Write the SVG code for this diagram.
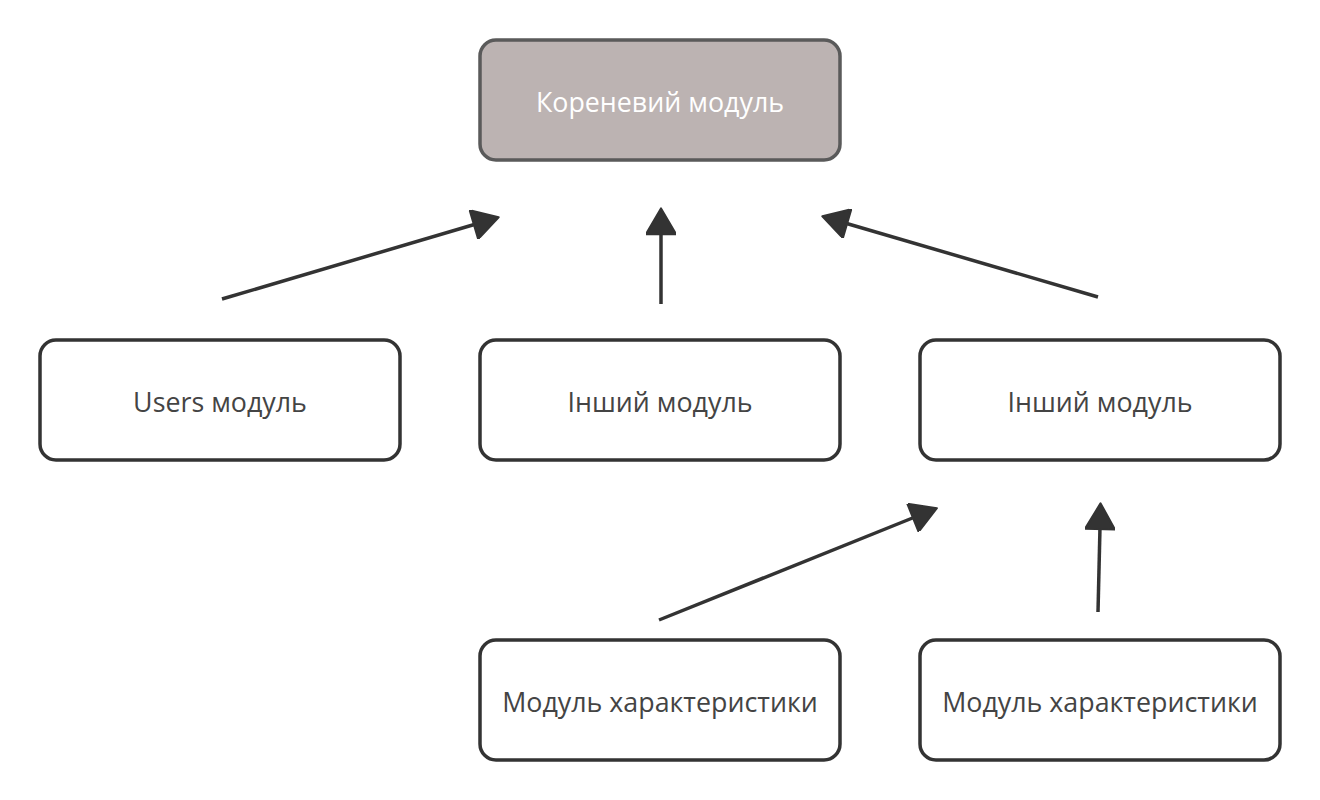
<svg xmlns="http://www.w3.org/2000/svg" width="1320" height="800" viewBox="0 0 1320 800">
<style>
.n{fill:#fff;stroke:#333;stroke-width:3.5}
.root{fill:#bcb3b2;stroke:#5a5a5a;stroke-width:3.5}
.t{font-family:"Open Sans",sans-serif;font-size:26.8px;fill:#444;text-anchor:middle;dominant-baseline:central}
.tr{fill:#fff}
.c{stroke:#333;stroke-width:3.5;fill:none;marker-end:url(#ah)}
</style>
<defs>
<marker id="ah" markerUnits="userSpaceOnUse" markerWidth="30" markerHeight="30" viewBox="0 0 24 28" refX="2" refY="14" orient="auto">
<path d="M0,0 L24,14 L0,28 Z" fill="#333" stroke="#333" stroke-width="2" stroke-linejoin="round"/>
</marker>
</defs>
<rect width="1320" height="800" fill="#fff"/>
<g id="connectors">
<line class="c" x1="222" y1="299" x2="476" y2="224"/>
<line class="c" x1="661" y1="304" x2="661" y2="232"/>
<line class="c" x1="1098" y1="297" x2="845" y2="223"/>
<line class="c" x1="659" y1="620" x2="915" y2="517"/>
<line class="c" x1="1098" y1="612" x2="1100" y2="527"/>
</g>
<g id="root"><rect class="root" x="480" y="40" width="360" height="120" rx="16"/><text class="t tr" x="660" y="101">Кореневий модуль</text></g>
<g id="users"><rect class="n" x="40" y="340" width="360" height="120" rx="16"/><text class="t" x="220" y="401">Users модуль</text></g>
<g id="other1"><rect class="n" x="480" y="340" width="360" height="120" rx="16"/><text class="t" x="660" y="401">Інший модуль</text></g>
<g id="other2"><rect class="n" x="920" y="340" width="360" height="120" rx="16"/><text class="t" x="1100" y="401">Інший модуль</text></g>
<g id="feat1"><rect class="n" x="480" y="640" width="360" height="120" rx="16"/><text class="t" x="660" y="701">Модуль характеристики</text></g>
<g id="feat2"><rect class="n" x="920" y="640" width="360" height="120" rx="16"/><text class="t" x="1100" y="701">Модуль характеристики</text></g>
</svg>
